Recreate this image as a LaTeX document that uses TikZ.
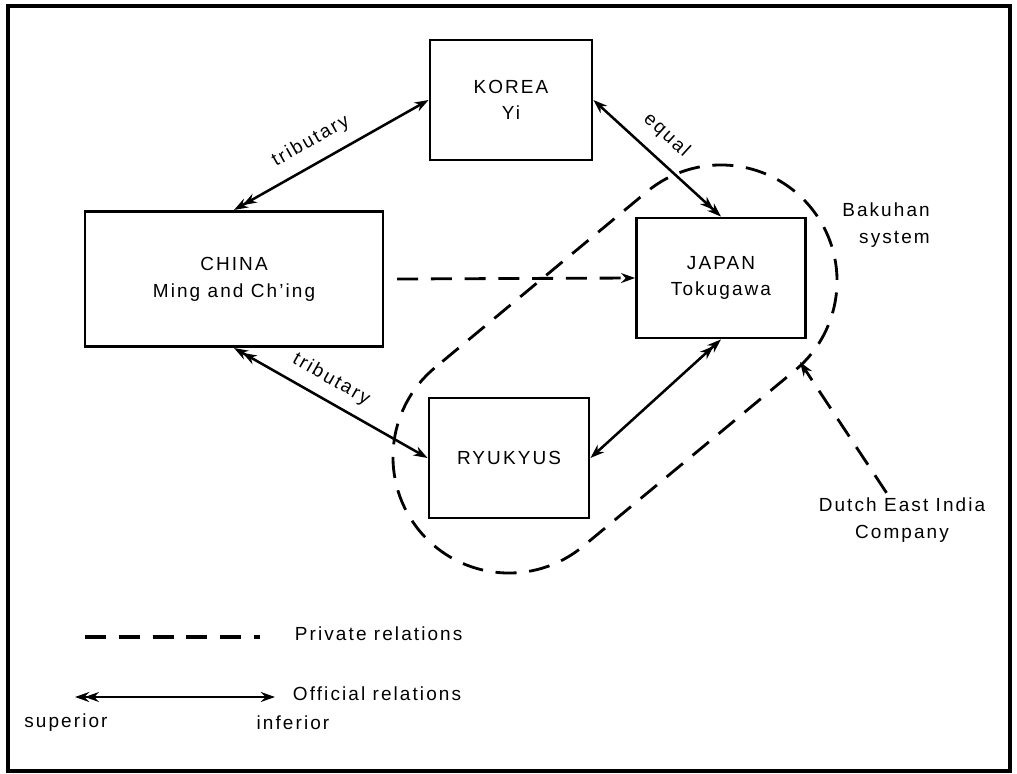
\documentclass[tikz,border=0pt]{standalone}
\usepackage{fontspec}
\setmainfont[LetterSpace=11]{Liberation Sans}
\usetikzlibrary{arrows.meta}

\tikzset{
  sgl/.tip={Stealth[length=10pt,width=7pt]},
  dbl/.tip={Stealth[length=10pt,width=7pt,sep=-3pt] Stealth[length=10pt,width=7pt]},
  country/.style={draw, rectangle, line width=2pt, align=center, minimum height=3cm},
  official/.style={line width=1.8pt},
  private/.style={line width=2pt, dash pattern=on 15pt off 9pt},
  rel/.style={sloped, pos=0.45},
}

\begin{document}
\begin{tikzpicture}[x=0.025cm, y=-0.025cm, font=\fontsize{13.5}{19}\selectfont]
\useasboundingbox (0,0) rectangle (1017,774);
\draw[line width=2.2pt] (8,6) rectangle (1010,771);

% Nodes - the four countries
\node[country, minimum width=4.05cm] (korea) at (511,100) {KOREA\\Yi};
\node[country, minimum width=7.45cm, minimum height=3.38cm] (china) at (234,279) {CHINA\\Ming and Ch'ing};
\node[country, minimum width=4.22cm] (japan) at (721,278) {JAPAN\\Tokugawa};
\node[country, minimum width=4cm] (ryukyus) at (509,458) {RYUKYUS};

% Nodes - side texts
\node[align=right] (bakuhan) at (886,225) {Bakuhan\\system};
\node[align=center] (dutch) at (902,520) {Dutch East India\\Company};
\coordinate (vocend) at (800,362);

% Bakuhan system outline
\coordinate (c1) at (509,457);
\coordinate (c2) at (721,281);
\draw[private] (c1) ++(130:2.9cm) arc[start angle=130, end angle=310, radius=2.9cm]
  -- ++(212,-176) arc[start angle=-50, end angle=130, radius=2.9cm] -- cycle;

% Arrows
\draw[official, dbl-sgl] (china.north) -- node[rel, above=5pt] {tributary} (korea.west);
\draw[official, sgl-dbl] (korea.east) -- node[rel, above=6pt] {equal} (japan.north);
\draw[official, dbl-sgl] (china.south) -- node[rel, above=4pt] {tributary} (ryukyus.west);
\draw[official, dbl-sgl] (japan.south) -- (ryukyus.east);
\draw[private, -sgl] ([xshift=9pt]china.east) -- (japan.west);
\draw[private, -sgl] ([xshift=-11pt]dutch.north) -- (vocend);

% Legend
\coordinate (privA) at (85,637);
\coordinate (privB) at (260,637);
\draw[private, line width=2.4pt] (privA) -- (privB);
\node[anchor=west] (privtext) at (290,634) {Private relations};
\coordinate (supA) at (75,697);
\coordinate (infB) at (275,697);
\draw[official, dbl-sgl] (supA) -- (infB);
\node[anchor=west] (offtext) at (288,694) {Official relations};
\node (superior) at (66,723) {superior};
\node (inferior) at (293,723) {inferior};
\end{tikzpicture}
\end{document}
